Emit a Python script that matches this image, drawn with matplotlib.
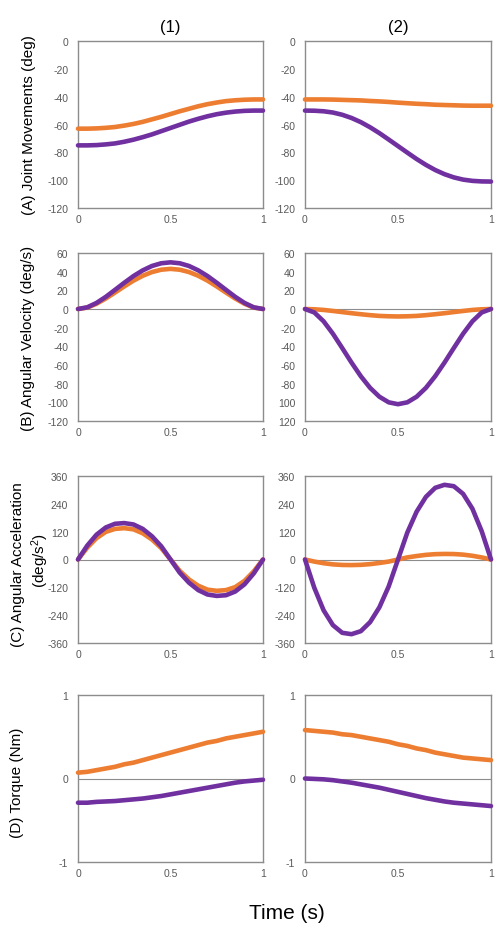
import numpy as np
import matplotlib
matplotlib.use("Agg")
import matplotlib.pyplot as plt

plt.rcParams['font.family'] = ['Liberation Sans', 'DejaVu Sans']
plt.rcParams['mathtext.default'] = 'regular'
plt.rcParams['axes.unicode_minus'] = False

# time axis (s)
t = np.linspace(0, 1, 21)

# (A) joint movements (deg)
ang1_or = [-63, -63.0, -62.8, -62.4, -61.8, -60.8, -59.6, -58.1, -56.3, -54.5, -52.5,
           -50.5, -48.7, -46.9, -45.4, -44.2, -43.2, -42.6, -42.2, -42.0, -42.0]
ang1_pu = [-75, -75, -74.8, -74.3, -73.6, -72.4, -70.9, -69.1, -67.1, -64.8, -62.5,
           -60.2, -57.9, -55.9, -54.1, -52.6, -51.5, -50.7, -50.2, -50, -50]
ang2_or = [-42, -42, -42.0, -42.1, -42.3, -42.5, -42.7, -43.1, -43.4, -43.8, -44.3,
           -44.7, -45.1, -45.4, -45.8, -46.0, -46.2, -46.4, -46.5, -46.5, -46.5]
ang2_pu = [-50, -50.1, -50.5, -51.4, -53.0, -55.3, -58.3, -62.0, -66.2, -70.8, -75.5,
           -80.2, -84.8, -89.0, -92.7, -95.7, -98.0, -99.6, -100.5, -100.9, -101]

# (B) angular velocity (deg/s)
vel1_or = [0, 1.5, 5.6, 11.2, 17.6, 24.2, 30.4, 35.6, 39.6, 42.1, 43,
           42.1, 39.6, 35.6, 30.4, 24.2, 17.6, 11.2, 5.6, 1.5, 0]
vel1_pu = [0, 1.8, 6.5, 13.0, 20.5, 28.1, 35.3, 41.4, 46.1, 49.0, 50,
           49.0, 46.1, 41.4, 35.3, 28.1, 20.5, 13.0, 6.5, 1.8, 0]
vel2_or = [0, -0.3, -1.0, -2.1, -3.3, -4.5, -5.6, -6.6, -7.4, -7.8, -8,
           -7.8, -7.4, -6.6, -5.6, -4.5, -3.3, -2.1, -1.0, -0.3, 0]
vel2_pu = [0, -3.7, -13.2, -26.5, -41.8, -57.4, -72.0, -84.5, -94.0, -100.0, -102,
           -100.0, -94.0, -84.5, -72.0, -57.4, -41.8, -26.5, -13.2, -3.7, 0]

# (C) angular acceleration (deg/s^2)
acc1_or = [0, 51, 92, 119, 132, 135, 130, 113, 86, 49, 0,
           -49, -86, -113, -130, -135, -132, -119, -92, -51, 0]
acc1_pu = [0, 60, 107, 138, 154, 157, 151, 132, 100, 57, 0,
           -57, -100, -132, -151, -157, -154, -138, -107, -60, 0]
acc2_or = [0, -9, -16, -21, -23.5, -24, -23, -20, -15, -9, 0,
           9, 15, 20, 23, 24, 23.5, 21, 16, 9, 0]
acc2_pu = [0, -122, -219, -283, -316, -322, -309, -270, -206, -116, 0,
           116, 206, 270, 309, 322, 316, 283, 219, 122, 0]

# (D) torque (Nm)
trq1_or = [0.07, 0.08, 0.10, 0.12, 0.14, 0.17, 0.19, 0.22, 0.25, 0.28, 0.31,
           0.34, 0.37, 0.40, 0.43, 0.45, 0.48, 0.50, 0.52, 0.54, 0.56]
trq1_pu = [-0.29, -0.29, -0.28, -0.275, -0.27, -0.26, -0.25, -0.24, -0.225, -0.21, -0.19,
           -0.17, -0.15, -0.13, -0.11, -0.09, -0.07, -0.05, -0.035, -0.025, -0.015]
trq2_or = [0.58, 0.57, 0.56, 0.55, 0.53, 0.52, 0.50, 0.48, 0.46, 0.44, 0.41,
           0.39, 0.36, 0.34, 0.31, 0.29, 0.27, 0.25, 0.24, 0.23, 0.22]
trq2_pu = [0, -0.005, -0.01, -0.02, -0.035, -0.05, -0.07, -0.09, -0.11, -0.135, -0.16,
           -0.185, -0.21, -0.235, -0.255, -0.275, -0.29, -0.30, -0.31, -0.32, -0.33]

yticks_A = [0, -20, -40, -60, -80, -100, -120]
yticks_B = [60, 40, 20, 0, -20, -40, -60, -80, -100, -120]
ylabels_B2 = ['60', '40', '20', '0', '-20', '-40', '-60', '-80', '100', '120']
yticks_C = [360, 240, 120, 0, -120, -240, -360]
yticks_D = [1, 0, -1]
xticks = [0, 0.5, 1]
xlabels = ['0', '0.5', '1']

ORANGE = '#ED7D31'
PURPLE = '#7030A0'
GRID = '#8C8C8C'
TXT = '#595959'

W, H = 503, 928
fig = plt.figure(figsize=(W / 100, H / 100), dpi=100)

cols = [(78, 263), (305, 491)]
rows = [(42, 209), (254, 422), (477, 644), (696, 863)]

panels = [
    [(ang1_or, ang1_pu, yticks_A, None), (ang2_or, ang2_pu, yticks_A, None)],
    [(vel1_or, vel1_pu, yticks_B, None), (vel2_or, vel2_pu, yticks_B, ylabels_B2)],
    [(acc1_or, acc1_pu, yticks_C, None), (acc2_or, acc2_pu, yticks_C, None)],
    [(trq1_or, trq1_pu, yticks_D, None), (trq2_or, trq2_pu, yticks_D, None)],
]

for r, (top, bot) in enumerate(rows):
    for c, (left, right) in enumerate(cols):
        ax = fig.add_axes([left / W, 1 - bot / H, (right - left) / W, (bot - top) / H])
        yo, yp, yt, yl = panels[r][c]
        ax.set_xlim(0, 1)
        ax.set_ylim(min(yt), max(yt))
        if r > 0:
            ax.axhline(0, color=GRID, lw=0.8, zorder=1)
        ax.plot(t, yo, color=ORANGE, lw=3.3, solid_capstyle='round', clip_on=False, zorder=3)
        ax.plot(t, yp, color=PURPLE, lw=3.3, solid_capstyle='round', clip_on=False, zorder=4)
        ax.set_yticks(yt)
        if yl is not None:
            ax.set_yticklabels(yl)
        ax.set_xticks(xticks)
        ax.set_xticklabels(xlabels)
        ax.tick_params(length=0, labelsize=7.5, labelcolor=TXT)
        ax.tick_params(axis='y', pad=7)
        ax.tick_params(axis='x', pad=4)
        for s in ax.spines.values():
            s.set_color(GRID)
            s.set_linewidth(1.0)
        if r == 0:
            ax.set_title('(%d)' % (c + 1), fontsize=12, pad=7)

fig.text(29 / W, 1 - 125 / H, '(A) Joint Movements (deg)', rotation=90, ha='center', va='center', fontsize=11)
fig.text(28 / W, 1 - 338 / H, '(B) Angular Velocity (deg/s)', rotation=90, ha='center', va='center', fontsize=11)
fig.text(18 / W, 1 - 565 / H, '(C) Angular Acceleration', rotation=90, ha='center', va='center', fontsize=11)
fig.text(40 / W, 1 - 560 / H, '(deg/s$^{2}$)', rotation=90, ha='center', va='center', fontsize=11)
fig.text(17 / W, 1 - 783 / H, '(D) Torque (Nm)', rotation=90, ha='center', va='center', fontsize=11)
fig.text(287 / W, 1 - 914 / H, 'Time (s)', ha='center', va='center', fontsize=15)

fig.savefig('out.png', dpi=100)
